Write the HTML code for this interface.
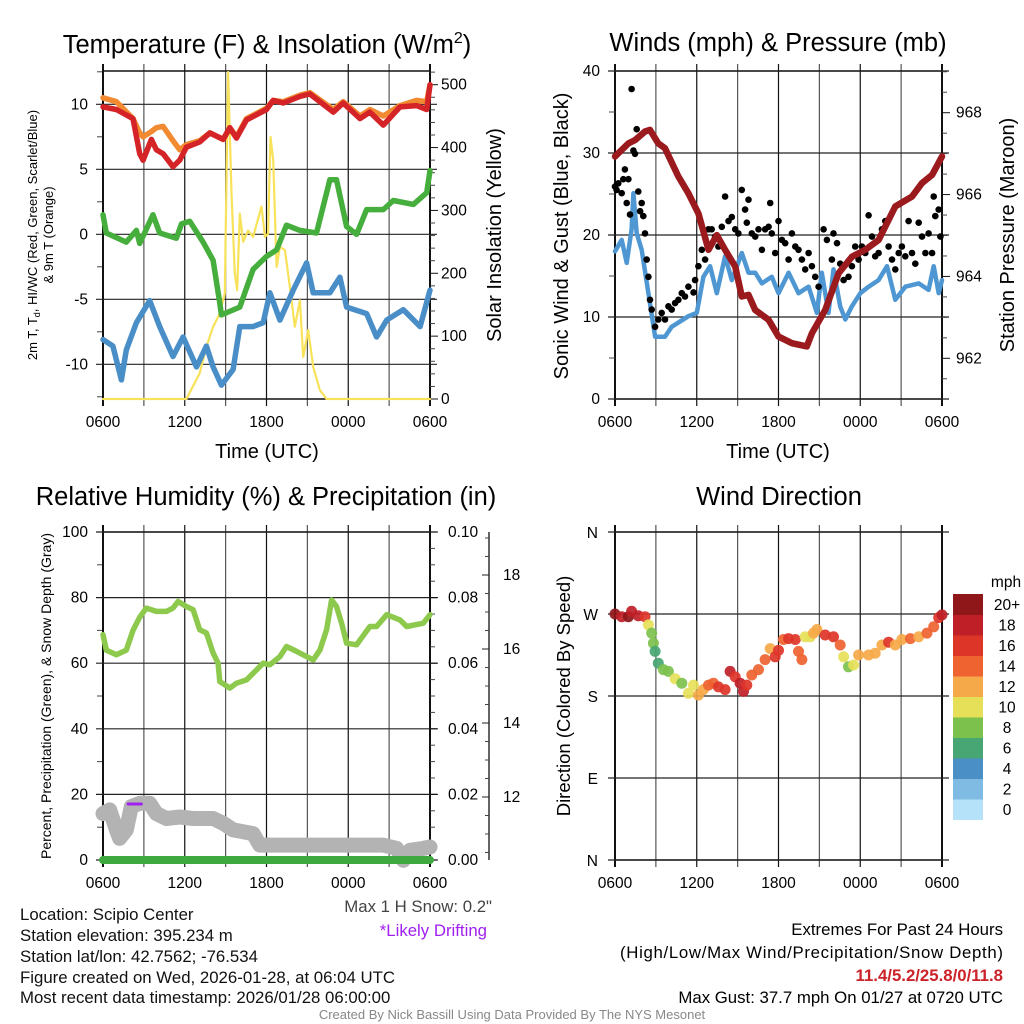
<!DOCTYPE html>
<html><head><meta charset="utf-8">
<style>
html,body{margin:0;padding:0;background:#fff;}
svg{display:block;font-family:"Liberation Sans",Arial,sans-serif;}
</style></head>
<body>
<svg id="fig" width="1024" height="1024" viewBox="0 0 1024 1024" xmlns="http://www.w3.org/2000/svg">
<rect width="1024" height="1024" fill="#fff"/>
<!-- titles -->
<text x="267" y="53" font-size="25.5" text-anchor="middle">Temperature (F) &amp; Insolation (W/m<tspan font-size="16" dy="-10">2</tspan><tspan dy="10">)</tspan></text>
<text x="778" y="51" font-size="25.5" text-anchor="middle">Winds (mph) &amp; Pressure (mb)</text>
<text x="266" y="505" font-size="25.5" text-anchor="middle">Relative Humidity (%) &amp; Precipitation (in)</text>
<text x="779" y="505" font-size="25.5" text-anchor="middle">Wind Direction</text>
<!-- axis titles -->
<text transform="translate(37,235) rotate(-90)" font-size="13" text-anchor="middle">2m T, T<tspan font-size="9" dy="3">d</tspan><tspan dy="-3">, HI/WC (Red, Green, Scarlet/Blue)</tspan></text>
<text transform="translate(53,235) rotate(-90)" font-size="13" text-anchor="middle">&amp; 9m T (Orange)</text>
<text transform="translate(501,235) rotate(-90)" font-size="20" text-anchor="middle">Solar Insolation (Yellow)</text>
<text transform="translate(568,236) rotate(-90)" font-size="20" text-anchor="middle">Sonic Wind &amp; Gust (Blue, Black)</text>
<text transform="translate(1014,235) rotate(-90)" font-size="20" text-anchor="middle">Station Pressure (Maroon)</text>
<text transform="translate(51,696) rotate(-90)" font-size="14" text-anchor="middle">Percent, Precipitation (Green), &amp; Snow Depth (Gray)</text>
<text transform="translate(570,696) rotate(-90)" font-size="18.5" text-anchor="middle">Direction (Colored By Speed)</text>
<text x="267" y="458" font-size="20" text-anchor="middle">Time (UTC)</text>
<text x="778" y="458" font-size="20" text-anchor="middle">Time (UTC)</text>
<!-- info text -->
<g font-size="16.8" fill="#111">
<text x="20" y="920">Location: Scipio Center</text>
<text x="20" y="941">Station elevation: 395.234 m</text>
<text x="20" y="962">Station lat/lon: 42.7562; -76.534</text>
<text x="20" y="983" textLength="375">Figure created on Wed, 2026-01-28, at 06:04 UTC</text>
<text x="20" y="1003">Most recent data timestamp: 2026/01/28 06:00:00</text>
</g>
<text x="492" y="912" font-size="16.8" fill="#444" text-anchor="end">Max 1 H Snow: 0.2"</text>
<text x="487" y="936" font-size="16.8" fill="#a020f0" text-anchor="end">*Likely Drifting</text>
<g font-size="16.8" text-anchor="end">
<text x="1003" y="935">Extremes For Past 24 Hours</text>
<text x="1003" y="958" textLength="383">(High/Low/Max Wind/Precipitation/Snow Depth)</text>
<text x="1003" y="981" font-weight="bold" fill="#cc2229">11.4/5.2/25.8/0/11.8</text>
<text x="1003" y="1003">Max Gust: 37.7 mph On 01/27 at 0720 UTC</text>
</g>
<text x="512" y="1019" font-size="13" fill="#888" text-anchor="middle">Created By Nick Bassill Using Data Provided By The NYS Mesonet</text>
</svg>
<script>
// ---------- DATA ----------
const xTickLabels = ["0600","1200","1800","0000","0600"];
// panel 1: temperature
const tempTime = [0,0.98,2.2,2.69,2.94,3.55,3.92,4.41,5.14,5.63,6.12,7.1,7.84,8.82,9.31,9.8,10.53,12,12.49,13.23,14.45,15.18,16.9,17.63,18.86,19.59,20.57,21.8,23.02,23.76,24];
const tempRed = [9.8,9.6,8.9,6.2,5.7,7.3,6.5,6.2,5.2,5.7,6.7,7.1,7.8,7.3,8.2,7.4,8.8,9.6,10.3,10.1,10.6,10.8,9.4,10.1,8.9,9.4,8.4,9.8,9.9,9.6,11.5];
const tempOrange = [10.5,10.2,8.9,7.8,7.5,7.9,8.2,8.3,7.2,6.5,6.9,7.2,7.8,7.3,8.2,7.5,8.9,9.7,10.3,10.2,10.7,10.9,9.6,10.2,9.1,9.6,9.1,9.9,10.3,10.2,11.5];
const dewTime = [0,0.24,1.71,2.45,2.69,3.67,4.16,5.39,5.76,6.37,7.35,8.08,8.57,8.69,10.04,11.02,12,12.74,13.47,14.45,15.67,16.65,17.14,17.88,18.61,19.35,20.57,21.31,22.78,23.76,24];
const dewVals = [1.5,0.1,-0.6,0.3,-0.7,1.5,0.1,-0.3,0.8,1.0,-0.6,-2.0,-5.3,-6.2,-5.6,-2.7,-1.7,-1.2,0.7,0.3,0.1,4.2,4.2,0.6,0,1.9,1.9,2.6,2.3,3.2,4.9];
const wcTime = [0,0.73,1.35,1.71,2.45,3.43,4.16,5.14,5.88,6.86,7.59,8.08,8.69,9.55,10.04,11.02,11.76,12.25,12.98,13.96,14.94,15.43,16.65,17.39,17.88,19.35,20.08,20.82,22.04,23.27,24];
const wcVals = [-8.1,-8.6,-11.2,-8.9,-6.8,-5.1,-7.1,-9.4,-7.9,-10.2,-8.6,-10.2,-11.6,-10.4,-7.1,-7.1,-6.8,-4.5,-6.6,-4.3,-2.2,-4.5,-4.5,-3.3,-5.6,-6.1,-7.9,-6.6,-5.8,-7.1,-4.3];
const solTime = [0,6.12,7.1,7.59,8.08,8.57,8.94,9.18,9.43,9.67,9.85,10.04,10.29,10.65,11.02,11.63,11.88,12.12,12.29,12.49,12.74,12.98,13.35,13.72,14.08,14.45,14.69,15.06,15.43,15.92,16.41,24];
const solVals = [0,0,41,83,115,136,168,520,327,200,173,295,250,268,258,306,258,263,417,380,210,242,237,178,115,157,67,110,51,14,0,0];
// panel 2: winds & pressure
const presTime = [0,0.49,0.98,1.47,2.2,2.57,3.18,3.67,4.65,5.39,6.12,6.86,7.47,8.08,8.82,9.31,9.8,10.29,11.27,12,12.98,14.08,14.45,15.43,16.41,17.39,18.37,19.35,20.57,21.8,22.53,23.27,24];
const presVals = [966.93,967.09,967.25,967.33,967.54,967.58,967.25,967.13,966.44,966.03,965.54,964.65,965.01,964.65,964.24,963.51,963.55,963.18,962.94,962.53,962.37,962.29,962.61,963.18,964.08,964.48,964.65,964.89,965.71,965.95,966.28,966.48,966.93];
const windTime = [0,0.49,0.86,1.22,1.35,1.59,1.96,2.45,2.94,3.67,4.16,5.39,6,6.49,6.98,7.47,8.08,8.57,9.31,9.8,10.29,10.78,11.51,12,12.74,13.47,14.21,14.82,15.18,15.67,16.04,16.53,16.9,17.39,18,18.61,19.35,19.96,20.57,21.31,22.29,23.02,23.39,23.76,24];
const windVals = [18,19.4,16.6,20.7,25.1,20.2,18.2,12.9,7.6,7.6,8.8,10.1,10.5,14.9,16.2,12.9,17.4,14.5,17.8,15.4,15.4,14.1,14.9,12.9,15.4,12.9,13.7,10.5,15.4,10.5,15.8,11.3,9.7,11.3,12.9,13.7,14.5,16.2,12.1,13.7,14.1,13.3,16.2,12.9,14.5];
const gustTime = [0,0.12,0.24,0.49,0.61,0.73,0.86,0.98,1.1,1.22,1.35,1.47,1.59,1.71,1.84,1.96,2.08,2.2,2.33,2.45,2.57,2.69,2.94,3.18,3.43,3.67,3.92,4.16,4.41,4.65,4.9,5.14,5.39,5.76,5.88,6.12,6.37,6.61,6.86,7.1,7.35,7.59,7.84,8.08,8.33,8.57,8.82,9.06,9.31,9.55,9.67,9.8,10.04,10.29,10.53,10.78,11.02,11.27,11.39,11.51,11.76,12,12.25,12.49,12.74,12.98,13.23,13.47,13.72,13.96,14.21,14.45,14.69,14.94,15.31,15.55,15.92,16.04,16.29,16.53,16.78,17.14,17.39,17.63,17.88,18.12,18.37,18.61,18.86,19.1,19.35,19.59,19.84,20.08,20.33,20.57,20.82,21.06,21.31,21.55,21.8,22.04,22.29,22.53,22.78,23.02,23.27,23.39,23.51,23.76,23.88];
const gustVals = [25.9,25.5,26.3,25.1,26.8,28,23.9,26.8,22.5,37.8,30.3,29.9,32.9,25.3,22.9,23.9,22.3,20.2,17,14.9,12.1,10.9,8.8,9.7,10.5,9.7,11.3,10.9,11.7,12.1,12.9,12.5,13.7,13,14.5,16.2,18.2,17,20.7,20.7,19.8,18.6,21,24.7,21.7,22.2,20.7,20.2,25.5,23.1,21.5,24.3,20.2,19.8,20.7,18.2,20.7,21,23.9,20.2,17.8,21.7,19.4,19,17,20.2,18.6,18.2,17,15.8,17.8,16.2,14.9,13.7,20.7,19.4,17,20.2,19,16.5,14.5,14.9,16.2,18.6,17,18.6,17.8,22.4,19.8,17.4,17.8,20.7,21.7,18.6,17,15.8,17.8,18.6,17.4,21.7,17.8,16.5,21.5,19.8,17.8,20.2,17.8,24.7,22.3,23.1,19.8];
// panel 3: humidity, precip, snow depth
const rhTime = [0,0.24,0.98,1.71,2.2,2.69,3.18,3.92,4.65,5.14,5.51,6.12,6.61,7.1,7.59,8.08,8.45,8.57,9.31,9.8,10.53,11.27,11.76,12.25,12.98,13.47,14.21,14.94,15.43,15.92,16.41,16.78,17.14,17.51,17.88,18.61,19.59,20.08,20.82,21.8,22.29,23.51,24];
const rhVals = [68.7,64,62.6,64,70,74,76.8,75.8,75.8,76.8,78.8,77.3,76.3,70.2,69.2,63.1,60,54.4,52.4,53.9,54.9,58,60,59.5,62,65.1,63.6,62,61,64,70.2,79.3,77.3,72.2,66.1,65.6,71.2,71.2,74.8,73.2,71.2,72.2,74.8];
const precipTime = [0,24];
const precipVals = [0,0];
const snowTime = [0,0.49,0.98,1.22,1.71,2.08,2.69,3.43,3.92,4.65,5.63,6.61,8.08,8.82,9.55,11.02,11.51,20.57,21.55,22.04,22.53,23.51,24];
const snowVals = [11.55,11.65,11.11,10.88,11.11,11.74,11.83,11.83,11.55,11.42,11.46,11.42,11.42,11.29,11.11,11.01,10.7,10.7,10.61,10.29,10.56,10.61,10.65];
const driftTime = [1.84,2.82];
const driftVals = [11.81,11.81];
// panel 4: wind direction
const dirTime = [0,0.49,0.98,1.22,1.71,2.2,2.45,2.69,2.82,2.94,3.18,3.55,3.92,4.41,4.9,5.39,5.76,6.12,6.49,6.86,7.22,7.59,8.08,8.45,8.82,9.18,9.43,9.67,10.04,10.53,11.02,11.39,11.76,12,12.37,12.74,13.23,13.47,13.72,13.96,14.33,14.57,14.82,15.43,16.04,16.53,16.78,17.14,17.51,17.88,18.61,19.1,19.59,20.08,20.57,21.06,21.68,22.29,22.9,23.39,23.76,24];
const dirVals = [270,267,267,273,268,267,258,249,238,229,216,209,207,199,194,183,192,181,187,192,194,190,187,207,201,194,185,192,203,209,220,232,223,230,242,243,242,229,220,245,245,249,253,247,245,236,223,212,214,225,225,227,236,239,236,242,243,245,249,256,266,269];
const dirSpeed = [20,19,20,18,19,17,10,9,8,6,6,8,8,10,9,10,10,13,13,15,14,16,16,18,17,18,19,17,14,15,15,13,16,16,15,17,16,14,14,11,10,12,12,16,17,14,10,9,10,12,13,13,13,16,12,13,14,13,15,15,17,19];
const cbLabels = ["0","2","4","6","8","10","12","14","16","18","20+"];
const cbColors = ["#b5e2f8","#80bbe4","#4a8fc6","#47a673","#7cc14c","#e6e059","#f6a948","#ee6330","#de3529","#bf1f27","#8f1619"];

// ---------- HELPERS ----------
const NS = "http://www.w3.org/2000/svg";
const svg = document.getElementById("fig");
function mk(tag, attrs, parent, name, inter) {
  const el = document.createElementNS(NS, tag);
  for (const k in attrs) el.setAttribute(k, attrs[k]);
  
  
  (parent || svg).appendChild(el);
  return el;
}
function txt(x, y, s, size, anchor, parent, name) {
  const t = mk("text", {x: x, y: y, "font-size": size, "text-anchor": anchor}, parent, name, false);
  t.textContent = s;
  return t;
}
const HPX = 327 / 24;
function xScale(x0) { return h => x0 + h * HPX; }
function linScale(v0, y0, v1, y1) { return v => y0 + (v - v0) * (y1 - y0) / (v1 - v0); }

function frame(x0, y0, y1, hLines, g, name) {
  for (let i = 0; i <= 8; i++) {
    const x = x0 + i * 3 * HPX;
    mk("line", {x1: x, y1: y0 - 7, x2: x, y2: y1 + 7, stroke: (i % 2 ? "#555" : "#111"), "stroke-width": (i === 0 || i === 8) ? 2 : 1.2}, g, name + "-vgrid", false);
  }
  const x1 = x0 + 327;
  mk("line", {x1: x0, y1: y0, x2: x1, y2: y0, stroke: "#111", "stroke-width": 1.4}, g, name + "-top-border", false);
  mk("line", {x1: x0, y1: y1, x2: x1, y2: y1, stroke: "#111", "stroke-width": 1.4}, g, name + "-bottom-border", false);
  hLines.forEach(y => {
    mk("line", {x1: x0 - 7, y1: y, x2: x1 + 7, y2: y, stroke: "#222", "stroke-width": 1.2}, g, name + "-hgrid", false);
  });
  for (let i = 0; i < xTickLabels.length; i++) {
    txt(x0 + i * 6 * HPX, y1 + 28, xTickLabels[i], 15.5, "middle", g, name + "-x-tick-label");
  }
}
function minorTicks(x, ys, len, g, name) {
  ys.forEach(y => mk("line", {x1: x, y1: y, x2: x + len, y2: y, stroke: "#444", "stroke-width": 1}, g, name, false));
}
function pathOf(ts, vs, xs, ys) {
  return ts.map((t, i) => (i ? "L" : "M") + xs(t).toFixed(1) + "," + ys(vs[i]).toFixed(1)).join(" ");
}
function series(ts, vs, xs, ys, color, w, g, name) {
  return mk("path", {d: pathOf(ts, vs, xs, ys), fill: "none", stroke: color, "stroke-width": w, "stroke-linejoin": "round", "stroke-linecap": "round"}, g, name, false);
}

// ---------- PANEL 1 ----------
(function () {
  const g = mk("g", {}, svg, "temperature-panel", false);
  const X = xScale(103), T = linScale(0, 234.3, 10, 104.3), S = linScale(0, 399, 500, 84.7);
  const tv = [10, 5, 0, -5, -10];
  frame(103, 71, 399, tv.map(T), g, "temperature");
  tv.forEach(v => txt(88, T(v) + 5, String(v), 15.5, "end", g, "temperature-y-tick-label"));
  minorTicks(97, [12.5, 7.5, 2.5, -2.5, -7.5, -12.5].map(T), 5, g, "temperature-minor-tick");
  const sv = [0, 100, 200, 300, 400, 500];
  sv.forEach(v => { mk("line", {x1: 430, y1: S(v), x2: 438, y2: S(v), stroke: "#111"}, g, "insolation-major-tick", false); txt(441, S(v) + 5, String(v), 15.5, "start", g, "insolation-y-tick-label"); });
  const mt = []; for (let v = 20; v <= 520; v += 20) if (v % 100) mt.push(S(v));
  minorTicks(430, mt, 5, g, "insolation-minor-tick");
  series(solTime, solVals, X, S, "#f8e25a", 2.2, g, "insolation-line");
  series(wcTime, wcVals, X, T, "#4a8ec8", 5.5, g, "windchill-line");
  series(dewTime, dewVals, X, T, "#46ae3c", 5.5, g, "dewpoint-line");
  series(tempTime, tempOrange, X, T, "#f28a32", 5.5, g, "temp-9m-line");
  series(tempTime, tempRed, X, T, "#d42428", 5.5, g, "temp-2m-line");
})();

// ---------- PANEL 2 ----------
(function () {
  const g = mk("g", {}, svg, "winds-panel", false);
  const X = xScale(615), W = linScale(0, 399, 40, 71), P = linScale(962, 358.3, 968, 112.7);
  const wv = [0, 10, 20, 30, 40];
  frame(615, 71, 399, wv.map(W), g, "winds");
  wv.forEach(v => txt(600, W(v) + 5, String(v), 15.5, "end", g, "wind-y-tick-label"));
  minorTicks(609, [5, 15, 25, 35].map(W), 6, g, "wind-minor-tick");
  const pv = [962, 964, 966, 968];
  pv.forEach(v => { mk("line", {x1: 942, y1: P(v), x2: 950, y2: P(v), stroke: "#111"}, g, "pressure-major-tick", false); txt(956, P(v) + 5, String(v), 15.5, "start", g, "pressure-y-tick-label"); });
  const mt = []; for (let v = 961.5; v <= 969; v += 0.5) if (v % 2) mt.push(P(v));
  minorTicks(942, mt, 5, g, "pressure-minor-tick");
  series(windTime, windVals, X, W, "#4f97d3", 4.5, g, "sustained-wind-line");
  gustTime.forEach((t, i) => mk("circle", {cx: X(t).toFixed(1), cy: W(gustVals[i]).toFixed(1), r: 3.3, fill: "#000"}, g, "gust-point", false));
  series(presTime, presVals, X, P, "#9b1a1e", 6.5, g, "pressure-line");
})();

// ---------- PANEL 3 ----------
(function () {
  const g = mk("g", {}, svg, "humidity-panel", false);
  const X = xScale(103), R = linScale(0, 860, 100, 532), PR = linScale(0, 860, 0.1, 532), SN = linScale(12, 797, 18, 575);
  const rv = [0, 20, 40, 60, 80, 100];
  frame(103, 532, 860, rv.map(R), g, "humidity");
  rv.forEach(v => txt(88, R(v) + 5, String(v), 15.5, "end", g, "humidity-y-tick-label"));
  minorTicks(97, [10, 30, 50, 70, 90].map(R), 5, g, "humidity-minor-tick");
  const pv = [0, 0.02, 0.04, 0.06, 0.08, 0.1];
  pv.forEach(v => { mk("line", {x1: 430, y1: PR(v), x2: 438, y2: PR(v), stroke: "#111"}, g, "precip-major-tick", false); txt(448, PR(v) + 5, v.toFixed(2), 15.5, "start", g, "precip-y-tick-label"); });
  const mt = []; for (let k = 1; k < 20; k++) if (k % 4) mt.push(PR(k * 0.005));
  minorTicks(430, mt, 5, g, "precip-minor-tick");
  mk("line", {x1: 489, y1: 532, x2: 489, y2: 860, stroke: "#222", "stroke-width": 1.4}, g, "snow-depth-axis-line", false);
  [12, 14, 16, 18].forEach(v => { mk("line", {x1: 482, y1: SN(v), x2: 489, y2: SN(v), stroke: "#222"}, g, "snow-major-tick", false); txt(503, SN(v) + 5, String(v), 15.5, "start", g, "snow-y-tick-label"); });
  const st = []; for (let v = 10.5; v <= 19; v += 0.5) if (v % 2) st.push(SN(v));
  minorTicks(485, st, 4, g, "snow-minor-tick");
  series(snowTime, snowVals, X, SN, "#b3b3b3", 15, g, "snow-depth-line");
  series(driftTime, driftVals, X, SN, "#a020f0", 3, g, "drifting-marker");
  series(rhTime, rhVals, X, R, "#8dc94c", 5.5, g, "humidity-line");
  series(precipTime, precipVals, X, PR, "#3ea93f", 8, g, "precipitation-line");
})();

// ---------- PANEL 4 ----------
(function () {
  const g = mk("g", {}, svg, "wind-direction-panel", false);
  const X = xScale(615), D = linScale(0, 860, 360, 532);
  const dv = [0, 90, 180, 270, 360], dl = ["N", "E", "S", "W", "N"];
  frame(615, 532, 860, dv.map(D), g, "direction");
  dv.forEach((v, i) => txt(598, D(v) + 6, dl[i], 15.5, "end", g, "direction-y-tick-label"));
  function colorFor(s) { return cbColors[Math.min(10, Math.max(0, Math.floor(s / 2)))]; }
  dirTime.forEach((t, i) => mk("circle", {cx: X(t).toFixed(1), cy: D(dirVals[i]).toFixed(1), r: 5.5, fill: colorFor(dirSpeed[i]), "fill-opacity": 0.92}, g, "direction-point", false));
  const cb = mk("g", {}, g, "speed-colorbar", false);
  const cbTop = 594, binH = 20.5;
  cbColors.forEach((c, i) => {
    const y = cbTop + (10 - i) * binH;
    mk("rect", {x: 953, y: y, width: 30, height: binH + 0.5, fill: c}, cb, "colorbar-bin", false);
    txt(1007, y + binH / 2 + 5.5, cbLabels[i], 15.5, "middle", cb, "colorbar-label");
  });
  txt(1006, 587, "mph", 15.5, "middle", cb, "colorbar-title");
})();
</script>
</body></html>
